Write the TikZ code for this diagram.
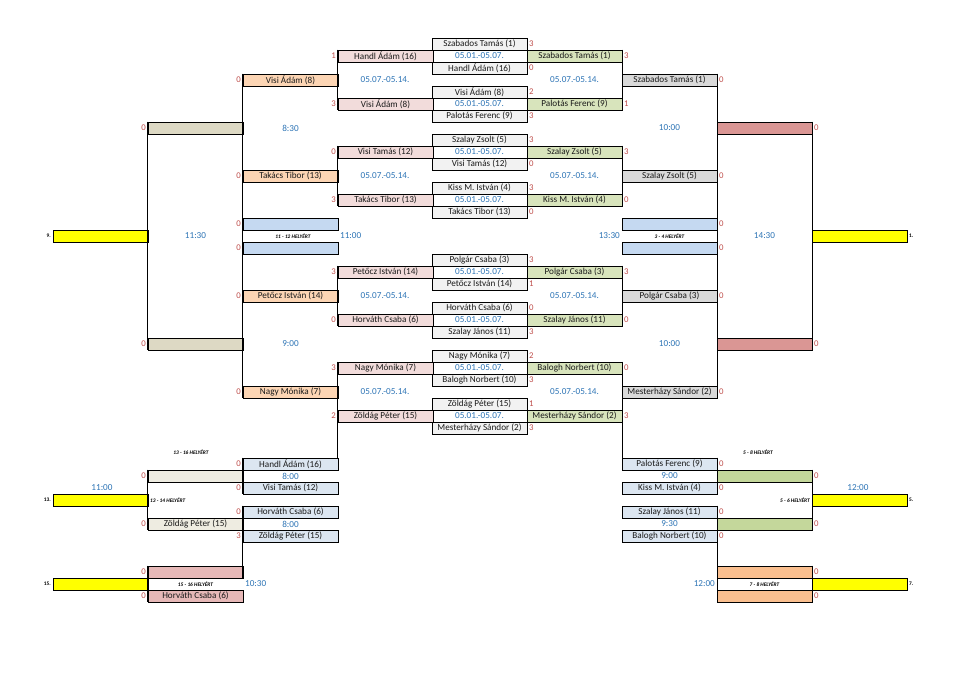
\documentclass[tikz,border=0pt]{standalone}
\usepackage{fontspec}
\setmainfont{Carlito}
\definecolor{cGray}{HTML}{F2F2F2}
\definecolor{cPink}{HTML}{F2DCDB}
\definecolor{cGreen}{HTML}{D8E4BC}
\definecolor{cOrange}{HTML}{FCD5B4}
\definecolor{cGrayR}{HTML}{D9D9D9}
\definecolor{cKhaki}{HTML}{DDD9C4}
\definecolor{cRed}{HTML}{DA9694}
\definecolor{cBlue}{HTML}{C5D9F1}
\definecolor{cYellow}{HTML}{FFFF00}
\definecolor{cLBlue}{HTML}{DCE6F1}
\definecolor{cLKhaki}{HTML}{EEECE1}
\definecolor{cPinkB}{HTML}{E6B8B7}
\definecolor{cGreenB}{HTML}{C4D79B}
\definecolor{cOrangeB}{HTML}{FABF8F}
\definecolor{cScore}{HTML}{C0504D}
\definecolor{cTime}{HTML}{2E75B6}
\definecolor{cName}{HTML}{1A1A1A}
\tikzset{
  box/.style={draw=black,line width=0.9bp,minimum width=95bp,minimum height=12bp,inner sep=0pt,text=cName,font=\fontsize{9.2}{10}\selectfont},
  scL/.style={anchor=east,inner sep=1.5bp,text=cScore,font=\fontsize{8.8}{10}\selectfont},
  scR/.style={anchor=west,inner sep=1.5bp,text=cScore,font=\fontsize{8.8}{10}\selectfont},
  tm/.style={inner sep=0pt,text=cTime,font=\fontsize{9.2}{10}\selectfont},
  lab/.style={inner sep=0pt,font=\fontsize{5.4}{6}\selectfont\bfseries\itshape},
  plc/.style={inner sep=0pt,font=\fontsize{5.4}{6}\selectfont\bfseries},
  conn/.style={draw=black,line width=0.9bp}
}
\newcommand\boxL[5]{\node[box,fill=#1] (#2) at (#3) {#4}; \node[scL] (#2s) at (#2.west) {#5};}
\newcommand\boxR[5]{\node[box,fill=#1] (#2) at (#3) {#4}; \node[scR] (#2s) at (#2.east) {#5};}
\begin{document}
\begin{tikzpicture}[x=1bp,y=-1bp]
\fill[white] (0,0) rectangle (978,686);
\useasboundingbox (0,0) rectangle (978,686);
% ---------- center column
\boxR{cGray}{e0}{479.5,44}{Szabados Tamás (1)}{3}
\boxR{cGray}{e2}{479.5,68}{Handl Ádám (16)}{0}
\boxR{cGray}{e4}{479.5,92}{Visi Ádám (8)}{2}
\boxR{cGray}{e6}{479.5,116}{Palotás Ferenc (9)}{3}
\boxR{cGray}{e8}{479.5,140}{Szalay Zsolt (5)}{3}
\boxR{cGray}{e10}{479.5,164}{Visi Tamás (12)}{0}
\boxR{cGray}{e12}{479.5,188}{Kiss M. István (4)}{3}
\boxR{cGray}{e14}{479.5,212}{Takács Tibor (13)}{0}
\boxR{cGray}{e18}{479.5,260}{Polgár Csaba (3)}{3}
\boxR{cGray}{e20}{479.5,284}{Petőcz István (14)}{1}
\boxR{cGray}{e22}{479.5,308}{Horváth Csaba (6)}{0}
\boxR{cGray}{e24}{479.5,332}{Szalay János (11)}{3}
\boxR{cGray}{e26}{479.5,356}{Nagy Mónika (7)}{2}
\boxR{cGray}{e28}{479.5,380}{Balogh Norbert (10)}{3}
\boxR{cGray}{e30}{479.5,404}{Zöldág Péter (15)}{1}
\boxR{cGray}{e32}{479.5,428}{Mesterházy Sándor (2)}{3}
\node[tm] (q1) at (479.5,56) {05.01.-05.07.};
\node[tm] (q5) at (479.5,104) {05.01.-05.07.};
\node[tm] (q9) at (479.5,152) {05.01.-05.07.};
\node[tm] (q13) at (479.5,200) {05.01.-05.07.};
\node[tm] (q19) at (479.5,272) {05.01.-05.07.};
\node[tm] (q23) at (479.5,320) {05.01.-05.07.};
\node[tm] (q27) at (479.5,368) {05.01.-05.07.};
\node[tm] (q31) at (479.5,416) {05.01.-05.07.};
% ---------- left first round (pink)
\boxL{cPink}{d1}{385.5,56}{Handl Ádám (16)}{1}
\boxL{cPink}{d5}{385.5,104}{Visi Ádám (8)}{3}
\boxL{cPink}{d9}{385.5,152}{Visi Tamás (12)}{0}
\boxL{cPink}{d13}{385.5,200}{Takács Tibor (13)}{3}
\boxL{cPink}{d19}{385.5,272}{Petőcz István (14)}{3}
\boxL{cPink}{d23}{385.5,320}{Horváth Csaba (6)}{0}
\boxL{cPink}{d27}{385.5,368}{Nagy Mónika (7)}{3}
\boxL{cPink}{d31}{385.5,416}{Zöldág Péter (15)}{2}
% ---------- right first round (green)
\boxR{cGreen}{f1}{574.5,56}{Szabados Tamás (1)}{3}
\boxR{cGreen}{f5}{574.5,104}{Palotás Ferenc (9)}{1}
\boxR{cGreen}{f9}{574.5,152}{Szalay Zsolt (5)}{3}
\boxR{cGreen}{f13}{574.5,200}{Kiss M. István (4)}{0}
\boxR{cGreen}{f19}{574.5,272}{Polgár Csaba (3)}{3}
\boxR{cGreen}{f23}{574.5,320}{Szalay János (11)}{0}
\boxR{cGreen}{f27}{574.5,368}{Balogh Norbert (10)}{0}
\boxR{cGreen}{f31}{574.5,416}{Mesterházy Sándor (2)}{3}
% ---------- quarter finals
\boxL{cOrange}{c3}{290.5,80}{Visi Ádám (8)}{0}
\boxL{cOrange}{c11}{290.5,176}{Takács Tibor (13)}{0}
\boxL{cOrange}{c21}{290.5,296}{Petőcz István (14)}{0}
\boxL{cOrange}{c29}{290.5,392}{Nagy Mónika (7)}{0}
\boxR{cGrayR}{g3}{669.5,80}{Szabados Tamás (1)}{0}
\boxR{cGrayR}{g11}{669.5,176}{Szalay Zsolt (5)}{0}
\boxR{cGrayR}{g21}{669.5,296}{Polgár Csaba (3)}{0}
\boxR{cGrayR}{g29}{669.5,392}{Mesterházy Sándor (2)}{0}
\node[tm] (dl3) at (385,80) {05.07.-05.14.};
\node[tm] (dl11) at (385,176) {05.07.-05.14.};
\node[tm] (dl21) at (385,296) {05.07.-05.14.};
\node[tm] (dl29) at (385,392) {05.07.-05.14.};
\node[tm] (dr3) at (574.5,80) {05.07.-05.14.};
\node[tm] (dr11) at (574.5,176) {05.07.-05.14.};
\node[tm] (dr21) at (574.5,296) {05.07.-05.14.};
\node[tm] (dr29) at (574.5,392) {05.07.-05.14.};
% ---------- semi finals and finals
\boxL{cKhaki}{b7}{195.5,128}{}{0}
\boxL{cKhaki}{b25}{195.5,344}{}{0}
\boxR{cRed}{h7}{764.5,128}{}{0}
\boxR{cRed}{h25}{764.5,344}{}{0}
\node[tm] (tl7) at (290.5,128) {8:30};
\node[tm] (tr7) at (669.5,128) {10:00};
\node[tm] (tl25) at (290.5,344) {9:00};
\node[tm] (tr25) at (669.5,344) {10:00};
\boxL{cBlue}{c15}{290.5,224}{}{0}
\boxL{cBlue}{c17}{290.5,248}{}{0}
\boxR{cBlue}{g15}{669.5,224}{}{0}
\boxR{cBlue}{g17}{669.5,248}{}{0}
\node[box,fill=cYellow] (a16) at (100.5,236) {};
\node[plc,anchor=east] (a16n) at (51,236) {9.};
\node[box,fill=cYellow] (i16) at (859.5,236) {};
\node[plc,anchor=west] (i16n) at (909,236) {1.};
\node[tm] (t16a) at (195.5,236) {11:30};
\node[lab] (l16a) at (293,236) {11 - 12 HELYÉRT};
\node[tm,anchor=west] (t16b) at (340,236) {11:00};
\node[tm,anchor=east] (t16c) at (620,236) {13:30};
\node[lab] (l16b) at (669.5,236) {3 - 4 HELYÉRT};
\node[tm] (t16d) at (764.5,236) {14:30};
% ---------- lower bracket left
\node[lab] (l34a) at (191,452) {13 - 16 HELYÉRT};
\boxL{cLBlue}{c35}{290.5,464}{Handl Ádám (16)}{0}
\boxL{cLKhaki}{b36}{195.5,476}{}{0}
\node[tm] (t36a) at (290.5,476) {8:00};
\boxL{cLBlue}{c37}{290.5,488}{Visi Tamás (12)}{0}
\node[tm] (t37a) at (102,488) {11:00};
\node[box,fill=cYellow] (a38) at (100.5,500) {};
\node[plc,anchor=east] (a38n) at (51,500) {13.};
\node[lab,anchor=west] (l38a) at (150,500) {13 - 14 HELYÉRT};
\boxL{cLBlue}{c39}{290.5,512}{Horváth Csaba (6)}{0}
\boxL{cLKhaki}{b40}{195.5,524}{Zöldág Péter (15)}{0}
\node[tm] (t40a) at (290.5,524) {8:00};
\boxL{cLBlue}{c41}{290.5,536}{Zöldág Péter (15)}{3}
\boxL{cPinkB}{b44}{195.5,572}{}{0}
\node[box,fill=cYellow] (a45) at (100.5,584) {};
\node[plc,anchor=east] (a45n) at (51,584) {15.};
\node[lab] (l45a) at (195.5,584) {15 - 16 HELYÉRT};
\node[tm,anchor=west] (t45a) at (245,584) {10:30};
\boxL{cPinkB}{b46}{195.5,596}{Horváth Csaba (6)}{0}
% ---------- lower bracket right
\node[lab] (l34b) at (758,452) {5 - 8 HELYÉRT};
\boxR{cLBlue}{g35}{669.5,464}{Palotás Ferenc (9)}{0}
\boxR{cGreenB}{h36}{764.5,476}{}{0}
\node[tm] (t36b) at (669.5,476) {9:00};
\boxR{cLBlue}{g37}{669.5,488}{Kiss M. István (4)}{0}
\node[tm] (t37b) at (858,488) {12:00};
\node[box,fill=cYellow] (i38) at (859.5,500) {};
\node[plc,anchor=west] (i38n) at (909,500) {5.};
\node[lab,anchor=east] (l38b) at (810,500) {5 - 6 HELYÉRT};
\boxR{cLBlue}{g39}{669.5,512}{Szalay János (11)}{0}
\boxR{cGreenB}{h40}{764.5,524}{}{0}
\node[tm] (t40b) at (669.5,524) {9:30};
\boxR{cLBlue}{g41}{669.5,536}{Balogh Norbert (10)}{0}
\boxR{cOrangeB}{h44}{764.5,572}{}{0}
\node[box,fill=cYellow] (i45) at (859.5,584) {};
\node[plc,anchor=west] (i45n) at (909,584) {7.};
\node[lab] (l45b) at (764.5,584) {7 - 8 HELYÉRT};
\node[tm,anchor=east] (t45b) at (715,584) {12:00};
\boxR{cOrangeB}{h46}{764.5,596}{}{0}
% ---------- connectors left
\draw[conn] (d1.north west) -- (d5.south west);
\draw[conn] (d9.north west) -- (d13.south west);
\draw[conn] (d19.north west) -- (d23.south west);
\draw[conn] (d27.north west) -- (d31.south west) -- (d31.south west |- c35.north);
\draw[conn] (c3.north west) -- (c29.south west);
\draw[conn] (b7.north west) -- (b25.south west);
\draw[conn] (c35.north west) -- (c37.south west);
\draw[conn] (b36.north west) -- (b40.south west);
\draw[conn] (c39.north west) -- (c39.north west |- b44.south);
\draw[conn] (b44.north west) -- (b46.south west);
% ---------- connectors right
\draw[conn] (f1.north east) -- (f5.south east);
\draw[conn] (f9.north east) -- (f13.south east);
\draw[conn] (f19.north east) -- (f23.south east);
\draw[conn] (f27.north east) -- (f31.south east) -- (f31.south east |- g35.north);
\draw[conn] (g3.north east) -- (g29.south east);
\draw[conn] (h7.north east) -- (h25.south east);
\draw[conn] (g35.north east) -- (g37.south east);
\draw[conn] (h36.north east) -- (h40.south east);
\draw[conn] (g39.north east) -- (g39.north east |- h46.south);
\draw[conn] (h44.north east) -- (h46.south east);
\end{tikzpicture}
\end{document}
